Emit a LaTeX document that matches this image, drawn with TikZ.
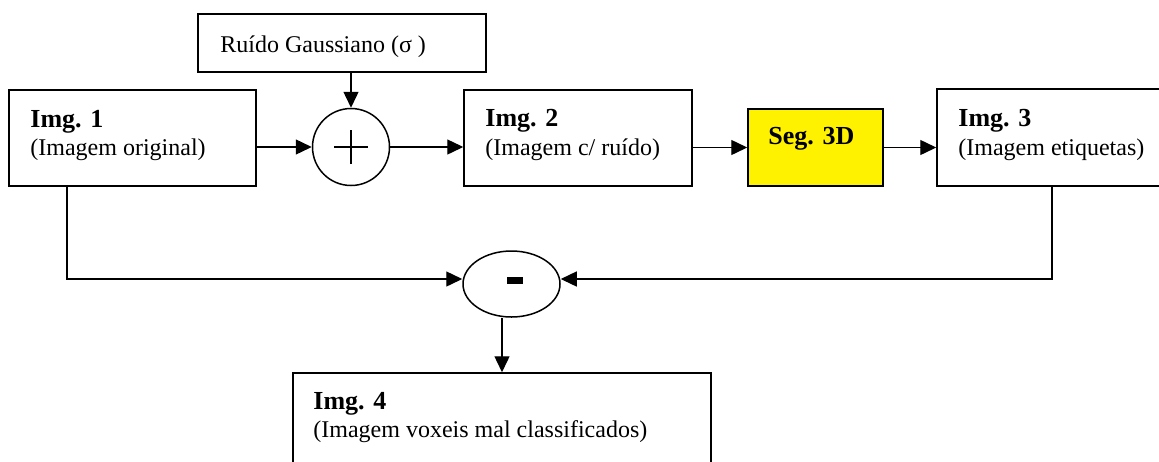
\documentclass[tikz,border=0pt]{standalone}
\usepackage{fontspec}
\setmainfont{Liberation Serif}
\usetikzlibrary{arrows.meta,shapes.geometric}
\tikzset{
    imgbox/.style={
        rectangle,
        draw=black,
        line width=0.75pt, % borda das caixas
        inner sep=0
    },
    segbox/.style={
        imgbox,
        fill=yellow % bloco de segmentacao
    },
    sumnode/.style={
        circle,
        draw=black,
        line width=0.75pt,
        minimum size=38.5pt,
        inner sep=0,
        path picture={
            \draw[line width=0.6pt]
                (path picture bounding box.center) +(-8.5pt,0) -- +(8.5pt,0)
                (path picture bounding box.center) +(0,-8.5pt) -- +(0,8.5pt);
        }
    },
    diffnode/.style={
        ellipse,
        draw=black,
        line width=0.75pt,
        minimum width=48.5pt,
        minimum height=33pt,
        inner sep=0,
        path picture={
            \fill ([shift={(1.75pt,1.75pt)}]path picture bounding box.center)
                +(-4pt,-1.75pt) rectangle +(4pt,1.75pt);
        }
    },
    titletext/.style={
        font=\fontsize{13}{15}\selectfont\bfseries,
        inner sep=0,
        anchor=base west
    },
    subtext/.style={
        font=\fontsize{12}{14}\selectfont,
        inner sep=0,
        anchor=base west
    }
}

\begin{document}
\begin{tikzpicture}[
                x=0.5pt, y=-0.5pt,
                >={Triangle[length=8pt,width=7.5pt]},
                flow/.style={->, line width=0.7pt}
            ]
            \clip (0,0) rectangle (1159,461);
            \fill[white] (0,0) rectangle (1159,461);

            % caixas
            \node[imgbox, minimum width=144pt, minimum height=29pt] (ruido) at (342,43) {};
            \node[imgbox, minimum width=123.5pt, minimum height=48pt] (img1) at (132.5,138) {};
            \node[sumnode] (soma) at (351,147) {};
            \node[imgbox, minimum width=114pt, minimum height=48pt] (img2) at (578,138) {};
            \node[segbox, minimum width=67.5pt, minimum height=38.5pt] (seg) at (815.5,147.5) {};
            \node[imgbox, minimum width=121.5pt, minimum height=48.5pt] (img3) at (1058.5,137.5) {};
            \node[diffnode] (dif) at (511.5,284) {};
            \node[imgbox, minimum width=209pt, minimum height=63.5pt] (img4) at (502,436.5) {};

            % textos
            \node[subtext] (truido) at (220,52) {Ruído Gaussiano (σ )};
            \node[titletext] (t1) at (30,127) {Img. 1};
            \node[subtext] (s1) at (30,155) {(Imagem original)};
            \node[titletext] (t2) at (485,126) {Img. 2};
            \node[subtext] (s2) at (485,155) {(Imagem c/ ruído)};
            \node[titletext] (tseg) at (768,144) {Seg. 3D};
            \node[titletext] (t3) at (958,126) {Img. 3};
            \node[subtext] (s3) at (958,155) {(Imagem etiquetas)};
            \node[titletext] (t4) at (313,409) {Img. 4};
            \node[subtext] (s4) at (313,437) {(Imagem voxeis mal classificados)};

            % ligacoes
            \coordinate (c1) at (67,279);
            \coordinate (c3) at (1052,279);
            \draw[flow] (ruido.south -| soma.north) -- (soma.north);
            \draw[flow] (img1.east |- soma.west) -- (soma.west);
            \draw[flow] (soma.east) -- (img2.west |- soma.east);
            \draw[flow] (img2.east |- seg.west) -- (seg.west);
            \draw[flow] ([xshift=-1pt]seg.east) -- (img3.west |- seg.east);
            \draw[flow] (img1.south -| c1) -- (c1) -- (dif.west |- c1);
            \draw[flow] (img3.south -| c3) -- (c3) -- (dif.east |- c3);
            \draw[flow] (dif.south -| img4.north) -- (img4.north);
\end{tikzpicture}
\end{document}
